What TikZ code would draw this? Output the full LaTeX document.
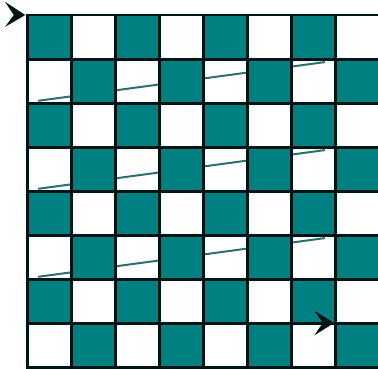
\documentclass[tikz,border=0pt]{standalone}
\usepackage{xcolor}
\definecolor{BoardTeal}{HTML}{008080}
\definecolor{TrackTeal}{HTML}{2A6E6E}
\definecolor{LineBlack}{HTML}{001414}

\begin{document}
\begin{tikzpicture}[
  square/.style={fill=BoardTeal},
  boardline/.style={draw=LineBlack,line width=0.068cm,line cap=rect},
  scanline/.style={TrackTeal,line width=0.045cm},
  tiphead/.style={fill=LineBlack}
]
  \useasboundingbox (-0.614,0.341) rectangle (7.977,-8.023);
  \fill[white] (-0.614,0.341) rectangle (7.977,-8.023);
  \coordinate (start) at (0,0);
  \coordinate (finish) at (7,-7);
  % slanted lines, hidden under the dark squares
  \foreach \r in {1,3,5}
    \draw[scanline] (0.25,-\r-0.95) -- (6.77,-\r-0.07);
  % dark squares
  \foreach \r in {0,...,7}
    \foreach \c in {0,...,7}{
      \pgfmathparse{int(mod(\r+\c,2))}
      \ifnum\pgfmathresult=0 \fill[square] (\c,-\r) rectangle ++(1,-1); \fi
    }
  % board lines
  \foreach \i in {0,...,8}{
    \draw[boardline] (\i,0) -- (\i,-8);
    \draw[boardline] (0,-\i) -- (8,-\i);
  }
  % arrow heads
  \fill[tiphead,shift={(start)}] (-0.04,0) -- (-0.5,0.3) -- (-0.3,0) -- (-0.5,-0.27) -- cycle;
  \fill[tiphead,shift={(finish)}] (-0.02,0) -- (-0.47,0.28) -- (-0.28,0) -- (-0.47,-0.28) -- cycle;
\end{tikzpicture}
\end{document}
